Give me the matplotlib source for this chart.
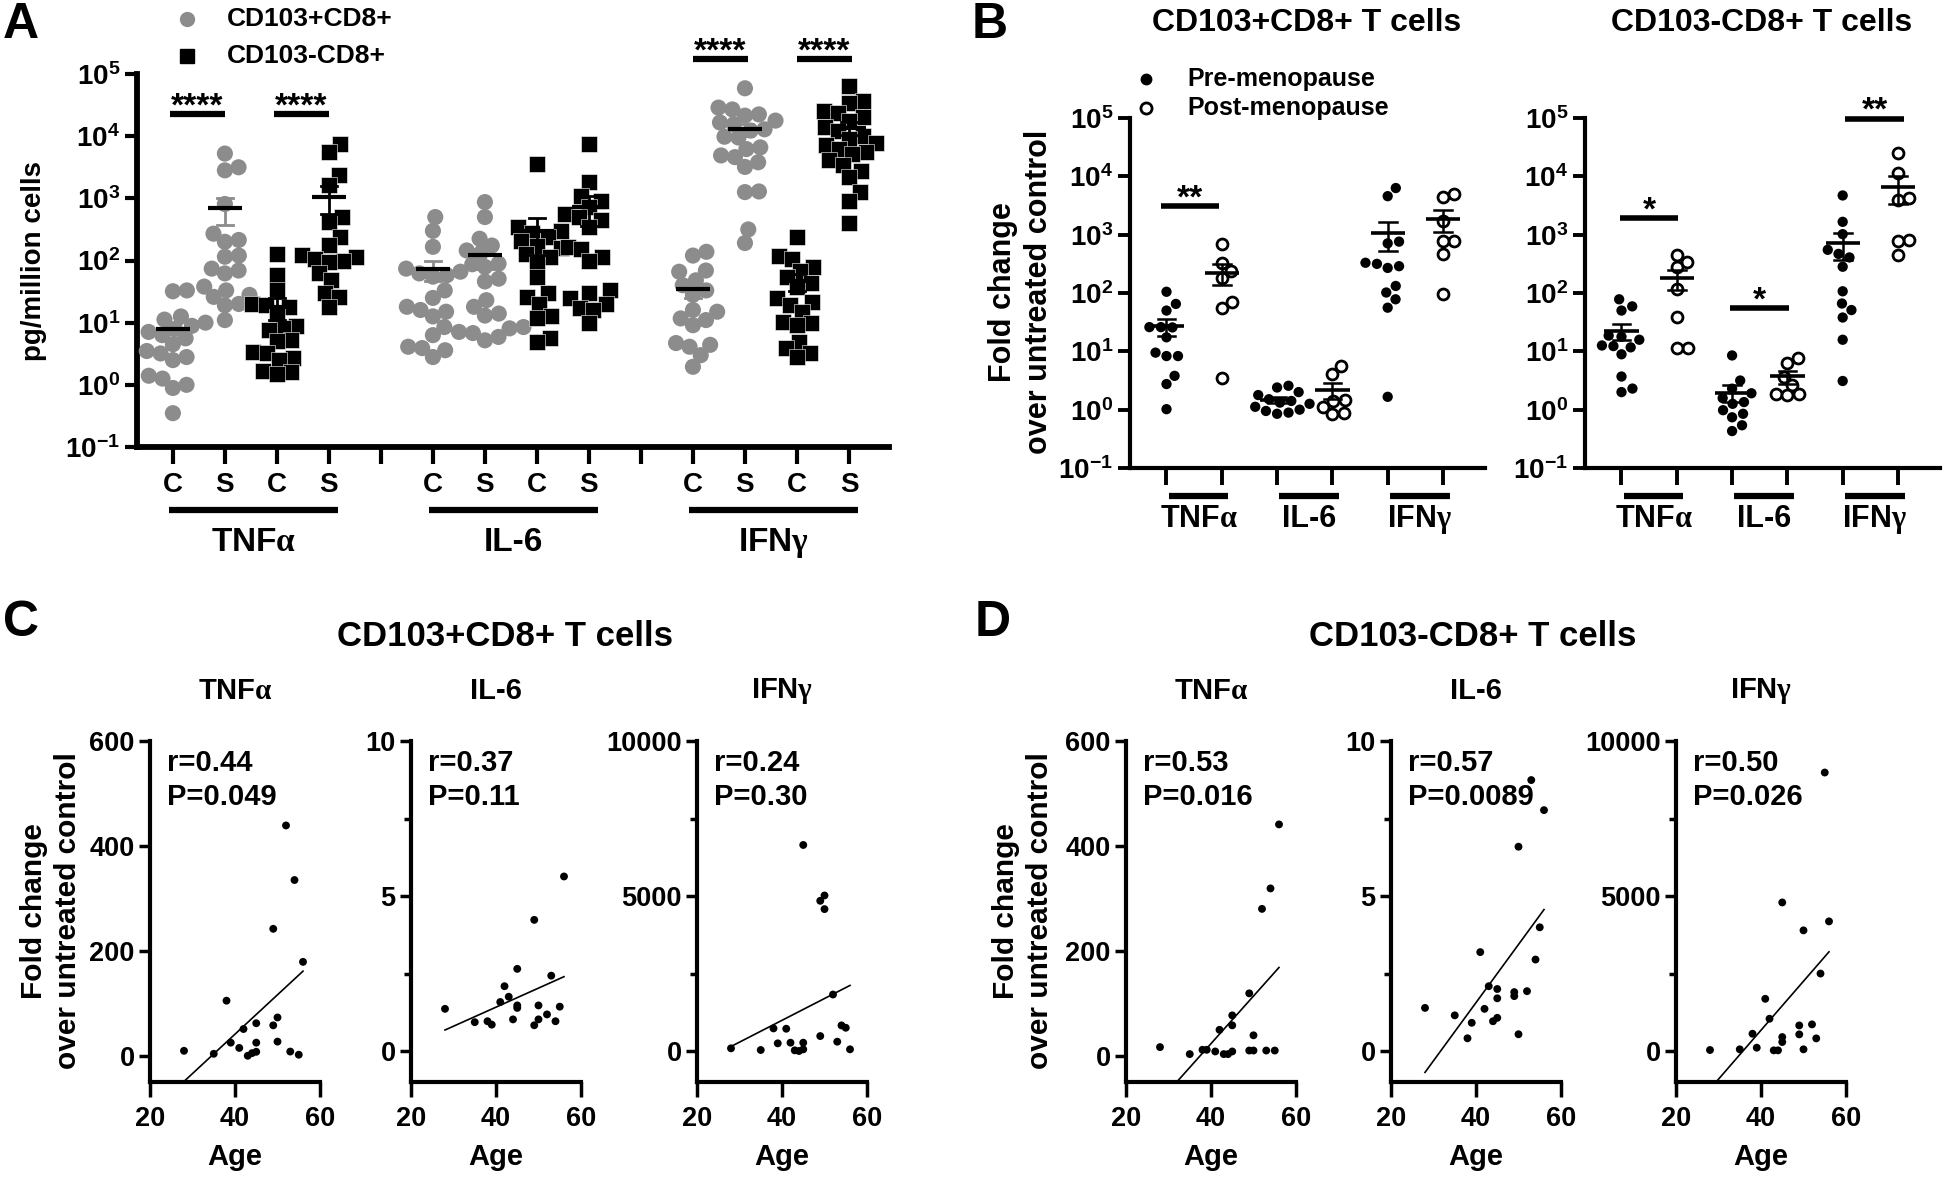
import numpy as np
import matplotlib
matplotlib.use('Agg')
import matplotlib.pyplot as plt
from matplotlib.ticker import NullLocator, FixedLocator
from matplotlib.transforms import blended_transform_factory
from matplotlib.lines import Line2D

plt.rcParams['font.family'] = ['Liberation Sans', 'DejaVu Sans']
plt.rcParams['font.weight'] = 'bold'
plt.rcParams['axes.labelweight'] = 'bold'
plt.rcParams['mathtext.fontset'] = 'custom'
plt.rcParams['mathtext.rm'] = 'Liberation Sans:bold'
plt.rcParams['mathtext.bf'] = 'Liberation Sans:bold'
plt.rcParams['mathtext.it'] = 'Liberation Serif'
plt.rcParams['mathtext.default'] = 'rm'

# ---------------- DATA ----------------
# Panel A (pg/million cells); C = control, S = stimulated
A_groups = [r'TNF$\mathit{\alpha}$', 'IL-6', r'IFN$\mathit{\gamma}$']
A_ticklabels = ['C', 'S', 'C', 'S', '', 'C', 'S', 'C', 'S', '', 'C', 'S', 'C', 'S']
A_legend = ['CD103+CD8+', 'CD103-CD8+']

tnf_pos_C = [33, 32, 12.6, 11.2, 10, 8.9, 7.9, 7.1, 6.3, 5.6, 4.5, 3.5, 3.2, 2.8, 2.5, 1.4, 1.26, 1.0, 0.89, 0.35]
tnf_pos_S = [5250, 3160, 2820, 810, 270, 214, 200, 120, 115, 74, 69, 62, 38, 33, 28, 26, 20, 19, 11]
tnf_neg_C = [129, 58, 34, 20, 19, 18, 14, 8.7, 8.1, 7.6, 5.2, 5.0, 3.4, 3.2, 2.7, 2.5, 1.7, 1.6, 1.5]
tnf_neg_S = [7600, 5500, 2340, 1620, 500, 420, 240, 178, 123, 115, 107, 100, 95, 62, 48, 30, 26, 18]
il6_pos_C = [500, 300, 166, 87, 74, 66, 62, 58, 55, 33, 25, 18, 16, 15, 12.6, 8.5, 6.3, 4.1, 3.9, 3.6, 2.8]
il6_pos_S = [870, 500, 224, 174, 145, 129, 89, 79, 51, 46, 23, 18, 14, 13, 8.5, 8.1, 7.1, 6.8, 5.9, 5.2]
il6_neg_C = [3550, 347, 302, 282, 240, 209, 174, 158, 129, 115, 95, 55, 30, 26, 20, 13, 12, 5.6, 4.9]
il6_neg_S = [7400, 1820, 1100, 910, 720, 560, 500, 440, 350, 166, 155, 115, 100, 33, 30, 25, 20, 17, 16, 9.8]
ifn_pos_C = [138, 120, 69, 66, 48, 40, 33, 28, 16, 15, 11.7, 11, 9.1, 4.7, 4.4, 4.1, 3.0, 1.95]
ifn_pos_S = [58900, 28800, 26900, 22400, 21400, 17800, 16600, 15500, 12900, 12300, 9800, 9500, 6600,
             6200, 4900, 4600, 3800, 3200, 1290, 1260, 316, 191]
ifn_neg_C = [240, 120, 107, 79, 69, 55, 43, 38, 24.5, 21.4, 19, 14.8, 10.2, 9.8, 9.1, 4.9, 3.9, 3.2, 2.8]
ifn_neg_S = [64600, 37200, 34700, 25700, 24000, 20000, 17800, 13800, 12300, 10200, 8900, 7900, 7100,
             6200, 5500, 5100, 4100, 3500, 2800, 2200, 1260, 910, 400]

# Panel B (fold change over untreated control)
B_groups = [r'TNF$\mathit{\alpha}$', 'IL-6', r'IFN$\mathit{\gamma}$']
B_titles = ['CD103+CD8+ T cells', 'CD103-CD8+ T cells']
B_legend = ['Pre-menopause', 'Post-menopause']
Bp_tnf_pre = [105, 65, 50, 26, 26, 25.7, 17.4, 9.5, 8.3, 8.3, 3.8, 2.75, 1.02]
Bp_tnf_post = [680, 330, 240, 182, 71, 56, 3.5]
Bp_il6_pre = [2.57, 2.4, 2.0, 1.78, 1.51, 1.41, 1.32, 1.26, 1.12, 1.0, 0.95, 0.89, 0.85]
Bp_il6_post = [5.5, 4.1, 1.48, 1.41, 1.12, 0.89, 0.85]
Bp_ifn_pre = [6300, 4570, 760, 710, 330, 316, 288, 269, 132, 102, 78, 56, 1.66]
Bp_ifn_post = [4900, 4370, 1700, 794, 776, 468, 95]
Bn_tnf_pre = [78, 59, 50, 18.6, 17.8, 15.8, 12.6, 12.3, 11.7, 8.9, 3.7, 2.3, 2.0]
Bn_tnf_post = [447, 339, 282, 117, 39, 11.2, 11.2]
Bn_il6_pre = [8.5, 3.16, 2.29, 1.91, 1.58, 1.35, 1.26, 0.98, 0.85, 0.74, 0.54, 0.43]
Bn_il6_post = [7.8, 6.3, 3.7, 2.7, 1.86, 1.82, 1.78]
Bn_ifn_pre = [4700, 1660, 1020, 550, 468, 407, 282, 107, 66, 51, 38, 15.8, 3.1]
Bn_ifn_post = [25100, 11500, 4170, 3980, 813, 776, 457]

# Panels C / D (age correlations)
ages = [28, 35, 38, 39, 41, 42, 43, 44, 45, 45, 45, 49, 50, 49, 50, 52, 53, 54, 55, 56]
ages2 = [28, 35, 38, 39, 41, 42, 43, 44, 45, 45, 45, 49, 49, 50, 50, 52, 53, 54, 55, 56]
C_tnf = [9.5, 3.8, 105, 25, 15, 51, 0, 5, 7.6, 25, 62, 58, 73, 242, 27, 439, 8, 335, 2, 179]
C_il6 = [1.36, 0.93, 0.96, 0.85, 1.58, 2.09, 1.75, 1.02, 2.65, 1.47, 1.39, 4.23, 0.83, 1.02, 1.47,
         1.18, 2.43, 0.96, 1.43, 5.63]
C_ifn = [86, 32, 729, 247, 718, 268, 21, 0, 54, 268, 6646, 482, 5017, 4845, 4577, 1822, 300, 825, 750, 54]
D_tnf = [16.5, 3.2, 11.4, 11.4, 8.2, 49.5, 3.2, 3.2, 8.2, 77, 58, 119, 10, 10, 39, 280, 10, 319, 10, 441]
D_il6 = [1.39, 1.15, 0.41, 0.91, 3.19, 1.36, 2.09, 0.96, 1.07, 2.0, 1.70, 1.90, 1.77, 0.54, 6.59,
         1.93, 8.74, 2.95, 3.99, 7.77]
D_ifn = [32, 54, 557, 107, 1683, 1040, 21, 21, 289, 450, 4792, 536, 825, 54, 3891, 858, 407, 2498, 8983, 4181]
C_stats = [('r=0.44', 'P=0.049'), ('r=0.37', 'P=0.11'), ('r=0.24', 'P=0.30')]
D_stats = [('r=0.53', 'P=0.016'), ('r=0.57', 'P=0.0089'), ('r=0.50', 'P=0.026')]
CD_titles = ['CD103+CD8+ T cells', 'CD103-CD8+ T cells']
CD_sub = [r'TNF$\mathit{\alpha}$', 'IL-6', r'IFN$\mathit{\gamma}$']

# ---------------- LAYOUT ----------------
W, H = 1944, 1179
fig = plt.figure(figsize=(W / 100, H / 100), dpi=100)
GRAY = '#8c8c8c'


def add_ax(l, r, t, b):
    return fig.add_axes([l / W, 1 - b / H, (r - l) / W, (b - t) / H])


def ftext(x, y, s, **kw):
    return fig.text(x / W, 1 - y / H, s, **kw)


def fmarker(x, y, **kw):
    fig.add_artist(Line2D([x / W], [1 - y / H], transform=fig.transFigure, linestyle='none', **kw))


def swarm(vals_px, diam):
    order = np.argsort(vals_px)
    placed = []
    offs = np.zeros(len(vals_px))
    for i in order:
        y = vals_px[i]
        cands = [0.0]
        for (px, py) in placed:
            dy = abs(py - y)
            if dy < diam:
                dx = np.sqrt(diam ** 2 - dy ** 2)
                cands += [px + dx, px - dx]
        cands = sorted(cands, key=abs)
        chosen = 0.0
        for c in cands:
            if all((c - px) ** 2 + (y - py) ** 2 >= diam ** 2 - 1e-6 for px, py in placed):
                chosen = c
                break
        placed.append((chosen, y))
        offs[i] = chosen
    return offs


def log_labels(ax):
    ax.set_yscale('log')
    ax.set_ylim(0.1, 1e5)
    ax.yaxis.set_major_locator(FixedLocator([0.1, 1, 10, 100, 1e3, 1e4, 1e5]))
    ax.yaxis.set_minor_locator(NullLocator())
    ax.set_yticklabels([r'$10^{-1}$', r'$10^{0}$', r'$10^{1}$', r'$10^{2}$',
                        r'$10^{3}$', r'$10^{4}$', r'$10^{5}$'])


def mean_sem(ax, x, v, hw, cw, col, lw_m, lw_e):
    v = np.asarray(v, float)
    m = v.mean()
    s = v.std(ddof=1) / np.sqrt(len(v))
    ax.plot([x, x], [m - s, m + s], color=col, lw=lw_e, zorder=5, solid_capstyle='butt')
    ax.plot([x - cw, x + cw], [m + s, m + s], color=col, lw=lw_e, zorder=5)
    ax.plot([x - cw, x + cw], [m - s, m - s], color=col, lw=lw_e, zorder=5)
    ax.plot([x - hw, x + hw], [m, m], color='black', lw=lw_m, zorder=6, solid_capstyle='butt')


def sig(ax, x1, x2, ybar, txt, lw):
    ax.plot([x1, x2], [ybar, ybar], color='black', lw=lw, solid_capstyle='butt', clip_on=False)
    ax.annotate(txt, xy=((x1 + x2) / 2, ybar), xytext=(0, -1), textcoords='offset points',
                ha='center', va='baseline', fontsize=24, annotation_clip=False)


# ---------------- PANEL A ----------------
axA = add_ax(137, 889, 74, 447)
log_labels(axA)
axA.set_xlim(0.31, 14.77)
A_data = [tnf_pos_C, tnf_pos_S, tnf_neg_C, tnf_neg_S,
          il6_pos_C, il6_pos_S, il6_neg_C, il6_neg_S,
          ifn_pos_C, ifn_pos_S, ifn_neg_C, ifn_neg_S]
A_pos = [1, 2, 3, 4, 6, 7, 8, 9, 11, 12, 13, 14]
for k, (x, v) in enumerate(zip(A_pos, A_data)):
    v = np.asarray(v, float)
    pos_grp = (k % 4) < 2
    off = swarm(np.log10(v) * 62.2, 14.0) / 52.0
    if pos_grp:
        axA.scatter(x + off, v, s=135, marker='o', color=GRAY, edgecolors='none', zorder=3)
        mean_sem(axA, x, v, 0.33, 0.16, GRAY, 3.0, 2.0)
    else:
        axA.scatter(x + off, v, s=125, marker='s', color='black', edgecolors='white',
                    linewidths=0.4, zorder=3)
        mean_sem(axA, x, v, 0.33, 0.16, 'black', 3.0, 2.0)

for s in ['top', 'right']:
    axA.spines[s].set_visible(False)
for s in ['left', 'bottom']:
    axA.spines[s].set_linewidth(4.2)
axA.set_xticks(range(1, 15))
axA.set_xticklabels(A_ticklabels)
axA.tick_params(axis='x', length=12, width=3, labelsize=20, pad=6)
axA.tick_params(axis='y', length=9, width=3, labelsize=20, pad=3)

sig(axA, 0.95, 2.0, 2.3e4, '****', 4.5)
sig(axA, 2.95, 4.0, 2.3e4, '****', 4.5)
sig(axA, 11.0, 12.05, 1.75e5, '****', 4.5)
sig(axA, 13.0, 14.05, 1.75e5, '****', 4.5)

trA = blended_transform_factory(axA.transData, axA.transAxes)
for gi, c in enumerate([2.5, 7.5, 12.5]):
    axA.plot([c - 1.58, c + 1.68], [-0.169, -0.169], transform=trA, color='black', lw=4.5,
             solid_capstyle='butt', clip_on=False)
    axA.text(c + 0.05, -0.257, A_groups[gi], transform=trA, ha='center', va='center', fontsize=24)

ftext(34, 261, 'pg/million cells', rotation=90, ha='center', va='center', fontsize=20)
fmarker(187, 19, marker='o', markersize=11, color=GRAY, markeredgecolor='none')
fmarker(187, 56, marker='s', markersize=10, color='black')
ftext(227, 19, A_legend[0], ha='left', va='center', fontsize=19)
ftext(227, 56, A_legend[1], ha='left', va='center', fontsize=19)
ftext(3, 2, 'A', ha='left', va='top', fontsize=36)

# ---------------- PANEL B ----------------
B_sets = [
    [Bp_tnf_pre, Bp_tnf_post, Bp_il6_pre, Bp_il6_post, Bp_ifn_pre, Bp_ifn_post],
    [Bn_tnf_pre, Bn_tnf_post, Bn_il6_pre, Bn_il6_post, Bn_ifn_pre, Bn_ifn_post],
]
B_lefts = [1130, 1585]
B_axes = []
for bi in range(2):
    l = B_lefts[bi]
    ax = add_ax(l, l + 355, 118, 468)
    B_axes.append(ax)
    log_labels(ax)
    ax.set_xlim(0.34, 6.76)
    for k, v in enumerate(B_sets[bi]):
        v = np.asarray(v, float)
        x = k + 1
        off = swarm(np.log10(v) * 58.3, 11.5) / 55.3
        if k % 2 == 0:
            ax.scatter(x + off, v, s=55, marker='o', color='black', edgecolors='none', zorder=3)
        else:
            ax.scatter(x + off, v, s=62, marker='o', facecolors='white', edgecolors='black',
                       linewidths=2.0, zorder=3)
        mean_sem(ax, x, v, 0.31, 0.16, 'black', 2.6, 1.8)
    for s in ['top', 'right']:
        ax.spines[s].set_visible(False)
    for s in ['left', 'bottom']:
        ax.spines[s].set_linewidth(3.0)
    ax.set_xticks(range(1, 7))
    ax.set_xticklabels([''] * 6)
    ax.tick_params(axis='x', length=12, width=2.8)
    ax.tick_params(axis='y', length=9, width=2.8, labelsize=20, pad=3)
    tr = blended_transform_factory(ax.transData, ax.transAxes)
    for gi, p in enumerate([1, 3, 5]):
        ax.plot([p + 0.04, p + 1.12], [-0.081, -0.081], transform=tr, color='black', lw=4.5,
                solid_capstyle='butt', clip_on=False)
        ax.text(p + 0.58, -0.147, B_groups[gi], transform=tr, ha='center', va='center', fontsize=22)
    ftext(l + 177, 23, B_titles[bi], ha='center', va='center', fontsize=23)

sig(B_axes[0], 0.9, 1.95, 3100, '**', 4.0)
sig(B_axes[1], 0.97, 2.03, 1950, '*', 4.0)
sig(B_axes[1], 2.97, 4.03, 55, '*', 4.0)
sig(B_axes[1], 5.05, 6.11, 98000, '**', 4.0)

ftext(1021, 292, 'Fold change\nover untreated control', rotation=90, ha='center', va='center',
      fontsize=22, linespacing=1.3)
fmarker(1146, 79, marker='o', markersize=7.5, color='black')
fmarker(1146, 108, marker='o', markersize=8, markerfacecolor='white', markeredgecolor='black',
        markeredgewidth=2.0)
ftext(1187, 79, B_legend[0], ha='left', va='center', fontsize=18)
ftext(1187, 108, B_legend[1], ha='left', va='center', fontsize=18)
ftext(972, 2, 'B', ha='left', va='top', fontsize=36)

# ---------------- PANELS C & D ----------------
yspecs = [((-50, 600), [0, 200, 400, 600], []),
          ((-1, 10), [0, 5, 10], [2.5, 7.5]),
          ((-1000, 10000), [0, 5000, 10000], [2500, 7500])]
C_lefts = [150, 411, 697]
D_lefts = [1126, 1391, 1676]
panels = [(C_lefts, [(ages, C_tnf), (ages2, C_il6), (ages, C_ifn)], C_stats, CD_titles[0], 'C', 0, 505, 51),
          (D_lefts, [(ages2, D_tnf), (ages2, D_il6), (ages2, D_ifn)], D_stats, CD_titles[1], 'D', 972, 1473, 1023)]
for lefts, dsets, stats, title, letter, lx, tx, ylx in panels:
    for j in range(3):
        l = lefts[j]
        ax = add_ax(l, l + 170, 741, 1082)
        age, val = np.asarray(dsets[j][0], float), np.asarray(dsets[j][1], float)
        ax.scatter(age, val, s=32, color='black', edgecolors='none', zorder=3)
        slope, icpt = np.polyfit(age, val, 1)
        xs = np.array([age.min(), age.max()])
        ax.plot(xs, slope * xs + icpt, color='black', lw=1.2, zorder=2)
        ylim, yt, ymin = yspecs[j]
        ax.set_xlim(20, 60)
        ax.set_ylim(*ylim)
        ax.set_xticks([20, 40, 60])
        ax.set_yticks(yt)
        ax.yaxis.set_minor_locator(FixedLocator(ymin) if ymin else NullLocator())
        ax.xaxis.set_minor_locator(NullLocator())
        for s in ['top', 'right']:
            ax.spines[s].set_visible(False)
        for s in ['left', 'bottom']:
            ax.spines[s].set_linewidth(3.0)
        ax.tick_params(axis='x', length=11, width=2.5, labelsize=19.5, pad=6)
        ax.tick_params(axis='y', length=8, width=2.5, labelsize=19.5, pad=3)
        ax.tick_params(axis='y', which='minor', length=5, width=2.5)
        ax.text(0.1, 0.935, stats[j][0], transform=ax.transAxes, ha='left', va='center', fontsize=21)
        ax.text(0.1, 0.835, stats[j][1], transform=ax.transAxes, ha='left', va='center', fontsize=21)
        ax.set_xlabel('Age', fontsize=21, fontweight='bold', labelpad=8)
        ftext(l + 85, 691, CD_sub[j], ha='center', va='center', fontsize=21)
    ftext(tx, 637, title, ha='center', va='center', fontsize=25)
    ftext(lx + 3, 600, letter, ha='left', va='top', fontsize=36)
    ftext(ylx, 911, 'Fold change\nover untreated control', rotation=90, ha='center', va='center',
          fontsize=21.5, linespacing=1.3)

fig.savefig('out.png', dpi=100, facecolor='white')
